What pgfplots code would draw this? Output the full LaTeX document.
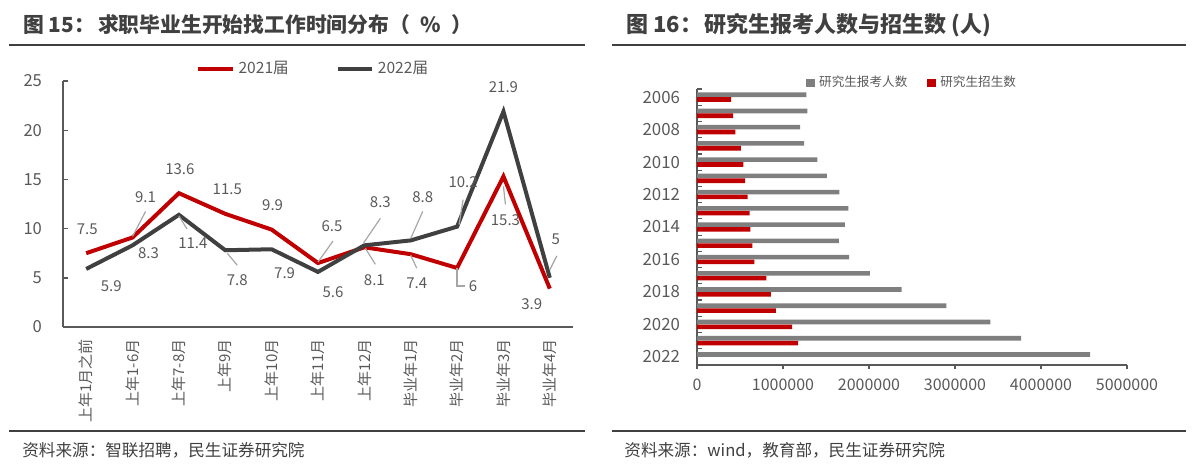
\documentclass[border=0pt]{standalone}
\usepackage{pgfplots}
\pgfplotsset{compat=1.18}
\usepackage{fontspec}
\setmainfont{Noto Sans CJK SC}
\definecolor{ired}{HTML}{C00000}
\definecolor{igray}{HTML}{404040}
\definecolor{bgray}{HTML}{7F7F7F}
\definecolor{tgray}{HTML}{595959}
\definecolor{lgray}{HTML}{A6A6A6}
\newcommand\dl[5]{\node[dlab,xshift={#3*0.5pt},yshift={(#4)*(-0.5pt)}] at (axis cs:#1,#2) {#5};}
\newcommand\ld[6]{\draw[lgray,line width=0.6pt] ([xshift={#3*0.5pt},yshift={(#4)*(-0.5pt)}]axis cs:#1,#2) -- ([xshift={#5*0.5pt},yshift={(#6)*(-0.5pt)}]axis cs:#1,#2);}
\tikzset{dlab/.style={inner sep=0pt,font=\fontsize{7.5}{9}\selectfont,text=tgray}}
\begin{document}
\begin{tikzpicture}
\useasboundingbox (0pt,0pt) rectangle (600pt,-233pt);
\begin{scope}[x=0.5pt,y=-0.5pt]
% titles and rules
\node[anchor=west,inner sep=0pt,font=\fontsize{10.4}{12}\selectfont\bfseries,text=igray] at (23,25) {图 15：\hspace{0.15em}求职毕业生开始找工作时间分布（\hspace{0.5em}\%\hspace{0.5em}）};
\node[anchor=west,inner sep=0pt,font=\fontsize{11}{13}\selectfont\bfseries,text=igray] at (626,25) {图 16：\hspace{0.1em}研究生报考人数与招生数 (人)};
\draw[igray,line width=1.4pt] (9,45) -- (585,45);
\draw[igray,line width=1.4pt] (612,45) -- (1186,45);
\draw[igray,line width=1.3pt] (9,431) -- (585,431);
\draw[igray,line width=1.3pt] (612,431) -- (1186,431);
\node[anchor=west,inner sep=0pt,font=\fontsize{8.3}{10}\selectfont,text=igray] at (22,450) {资料来源：智联招聘，民生证券研究院};
\node[anchor=west,inner sep=0pt,font=\fontsize{8.3}{10}\selectfont,text=igray] at (624,450) {资料来源：wind，教育部，民生证券研究院};
\end{scope}

% left chart
\begin{axis}[
  at={(31.5pt,-163.5pt)}, anchor=south west, scale only axis, width=255pt, height=123pt,
  xmin=-0.5, xmax=10.5, ymin=0, ymax=25,
  axis x line=bottom, axis y line=left,
  axis line style={-, draw=tgray, line width=0.7pt},
  xtick={0,...,10},
  xticklabels={上年1月之前,上年1-6月,上年7-8月,上年9月,上年10月,上年11月,上年12月,毕业年1月,毕业年2月,毕业年3月,毕业年4月},
  x tick label style={rotate=90, anchor=east, font=\fontsize{7.5}{9}\selectfont, text=tgray, xshift=-1.5pt},
  major x tick style={draw=none},
  ytick={0,5,...,25},
  y tick label style={font=\fontsize{8.3}{10}\selectfont, text=tgray, xshift=-7pt},
  ytick align=inside, major tick length=2.5pt,
  y tick style={draw=tgray, line width=0.7pt},
  /pgf/number format/assume math mode=true,
  clip=false,
  legend style={at={(axis description cs:0.249,1.0508)}, anchor=west, legend columns=2,
    draw=none, fill=none, font=\fontsize{7.8}{9}\selectfont, text=tgray,
    /tikz/every even column/.append style={column sep=21.5pt}},
  legend cell align=left,
]
\addplot[ired, line width=2pt] coordinates {(0,7.5)(1,9.1)(2,13.6)(3,11.5)(4,9.9)(5,6.5)(6,8.1)(7,7.4)(8,6)(9,15.3)(10,3.9)};
\addlegendentry{2021届}
\addplot[igray, line width=2pt] coordinates {(0,5.9)(1,8.3)(2,11.4)(3,7.8)(4,7.9)(5,5.6)(6,8.3)(7,8.8)(8,10.2)(9,21.9)(10,5)};
\addlegendentry{2022届}
% 2021 labels
\dl{0}{7.5}{1}{-24}{7.5}
\dl{1}{9.1}{13}{-40}{9.1}\ld{1}{9.1}{0}{-1}{13}{-26}
\dl{2}{13.6}{1}{-24}{13.6}
\dl{3}{11.5}{2}{-25}{11.5}
\dl{4}{9.9}{1}{-24}{9.9}
\dl{5}{6.5}{14}{-37}{6.5}\ld{5}{6.5}{0}{-1}{15}{-22}
\dl{6}{8.1}{10}{33}{8.1}\ld{6}{8.1}{1}{1}{11}{17}
\dl{7}{7.4}{6}{29}{7.4}\ld{7}{7.4}{0}{1}{6}{14}
\dl{8}{6}{16}{18}{6}
\draw[lgray,line width=0.6pt] (axis cs:8,6) -- ([yshift=-9pt]axis cs:8,6) -- ([xshift=4pt,yshift=-9pt]axis cs:8,6);
\dl{9}{15.3}{2}{44}{15.3}\ld{9}{15.3}{0}{10}{2}{28}
\dl{10}{3.9}{-18}{16}{3.9}
% 2022 labels
\dl{0}{5.9}{25}{17}{5.9}
\dl{1}{8.3}{16}{8}{8.3}
\dl{2}{11.4}{14}{28}{11.4}\ld{2}{11.4}{0}{1}{8}{14}
\dl{3}{7.8}{12}{30}{7.8}\ld{3}{7.8}{2}{3}{12}{15}
\dl{4}{7.9}{13}{24}{7.9}
\dl{5}{5.6}{15}{20}{5.6}
\dl{6}{8.3}{16}{-43}{8.3}\ld{6}{8.3}{-1}{-2}{16}{-27}
\dl{7}{8.8}{12}{-43}{8.8}\ld{7}{8.8}{0}{-2}{12}{-29}
\dl{8}{10.2}{6}{-44}{10.2}\ld{8}{10.2}{2}{-2}{6}{-27}
\dl{9}{21.9}{0}{-24}{21.9}
\dl{10}{5}{6}{-39}{5}\ld{10}{5}{0}{-8}{7}{-22}
\end{axis}

% right chart
\begin{axis}[
  at={(348.5pt,-182.5pt)}, anchor=south west, scale only axis, width=215pt, height=138pt,
  xmin=0, xmax=5000000, ymin=-0.5, ymax=16.5,
  axis x line=bottom, axis y line=left,
  axis line style={-, draw=tgray, line width=0.6pt},
  xtick={0,1000000,2000000,3000000,4000000,5000000},
  xticklabels={0,1000000,2000000,3000000,4000000,5000000},
  scaled x ticks=false,
  x tick label style={font=\fontsize{8}{10}\selectfont, text=tgray, yshift=-1.5pt},
  xtick align=outside,
  ytick={0,2,4,6,8,10,12,14,16},
  yticklabels={2022,2020,2018,2016,2014,2012,2010,2008,2006},
  y tick label style={font=\fontsize{8.4}{10}\selectfont, text=tgray, xshift=-5pt},
  minor ytick={-0.5,0.5,...,16.5},
  ytick align=inside,
  major y tick style={draw=none},
  minor y tick style={draw=tgray, line width=0.6pt},
  x tick style={draw=tgray, line width=0.6pt},
  major tick length=2pt, minor tick length=2.5pt,
  clip=false,
  legend style={at={(axis description cs:0.239,1.0217)}, anchor=west, legend columns=2,
    draw=none, fill=none, font=\fontsize{6.3}{8}\selectfont, text=tgray,
    /tikz/every even column/.append style={column sep=8pt}},
  legend image code/.code={\fill[#1] (0pt,-2.2pt) rectangle (4.5pt,2.2pt);},
]
\addplot[xbar, bar width=2.3pt, bar shift=1.2pt, fill=bgray, draw=none] table[x=v, y expr=2022-\thisrow{year}] {
year v
2006 1271200
2007 1282000
2008 1200000
2009 1246000
2010 1400000
2011 1511000
2012 1656000
2013 1760000
2014 1720000
2015 1649000
2016 1770000
2017 2010000
2018 2380000
2019 2900000
2020 3410000
2021 3770000
2022 4570000
};
\addlegendentry{研究生报考人数}
\addplot[xbar, bar width=2.3pt, bar shift=-1.2pt, fill=ired, draw=none] table[x=v, y expr=2022-\thisrow{year}] {
year v
2006 397900
2007 418600
2008 446400
2009 511000
2010 538000
2011 560200
2012 589700
2013 611400
2014 621300
2015 645100
2016 667100
2017 806100
2018 858000
2019 916500
2020 1106600
2021 1176500
};
\addlegendentry{研究生招生数}
\end{axis}
\end{tikzpicture}
\end{document}
